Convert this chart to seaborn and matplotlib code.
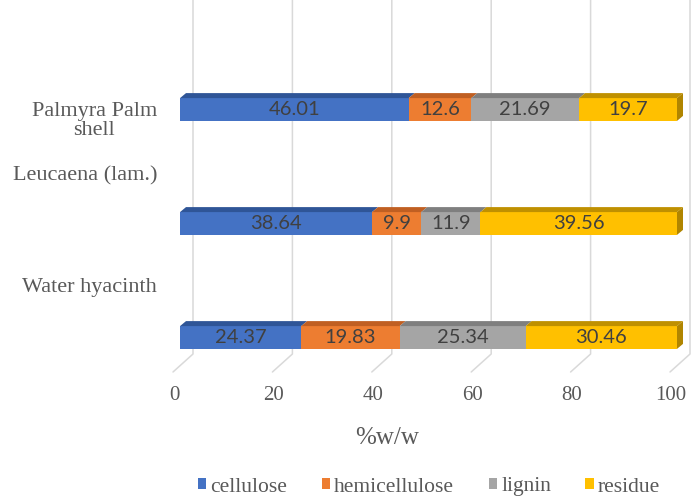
import matplotlib
matplotlib.use("Agg")
import matplotlib.pyplot as plt
import matplotlib.transforms as mtrans
from matplotlib.patches import Polygon, Patch
from matplotlib.lines import Line2D
import numpy as np
import pandas as pd
import seaborn as sns

# ---- data -------------------------------------------------------------
samples = ["Palmyra Palm\nshell", "Leucaena (lam.)", "Water hyacinth"]
components = ["cellulose", "hemicellulose", "lignin", "residue"]
cellulose = [46.01, 38.64, 24.37]
hemicellulose = [12.6, 9.9, 19.83]
lignin = [21.69, 11.9, 25.34]
residue = [19.7, 39.56, 30.46]
xticks = [0, 20, 40, 60, 80, 100]
xlabel = "%w/w"

# ---- styling ----------------------------------------------------------
front = {"cellulose": "#4472C4", "hemicellulose": "#ED7D31",
         "lignin": "#A5A5A5", "residue": "#FFC000"}
top = {"cellulose": "#2F5597", "hemicellulose": "#C05F22",
       "lignin": "#7F7F7F", "residue": "#BF9000"}
side = "#B08500"
grid_col = "#D9D9D9"
text_col = "#595959"
label_col = "#404040"
serif = ["Liberation Serif", "DejaVu Serif"]

sns.set_style("white")
plt.rcParams["font.family"] = serif

W, H = 699, 501
fig = plt.figure(figsize=(W / 100, H / 100), dpi=100)
ax = fig.add_axes([180 / W, (H - 353) / H, 497 / W, 353 / H])

df = pd.DataFrame({"sample": samples, "cellulose": cellulose,
                   "hemicellulose": hemicellulose, "lignin": lignin,
                   "residue": residue})
right = df[components].cumsum(axis=1)
left = right - df[components]
bar_h = 0.2

# stacked bars: draw cumulative totals from the outermost segment inward
for comp in reversed(components):
    layer = pd.DataFrame({"sample": samples, "end": right[comp]})
    sns.barplot(data=layer, x="end", y="sample", order=samples, orient="h",
                color=front[comp], saturation=1, width=bar_h, errorbar=None,
                linewidth=0, ax=ax, zorder=2)

ax.set_xlim(0, 100)
ax.set_ylim(2 + (353 - 337.5) / 114, -109.5 / 114)
ax.set_autoscale_on(False)
ax.set_ylabel("")
for s in ax.spines.values():
    s.set_visible(False)
ax.grid(False)

ident = mtrans.IdentityTransform()
dx, dy = 6, 5  # bar depth in pixels

# back-wall gridlines with a slanted floor segment
for t in xticks:
    xf = ax.transData.transform((t, 0))[0]
    ln = Line2D([xf + 13, xf + 13, xf - 7], [H, H - 354, H - 372],
                color=grid_col, lw=1.1, transform=ident, zorder=0.5,
                clip_on=False)
    ax.add_line(ln)

# 3-D top and side faces + value labels
for i, name in enumerate(samples):
    for comp in components:
        xl, xr = left.loc[i, comp], right.loc[i, comp]
        (px_l, y_a), = ax.transData.transform([(xl, i - bar_h / 2)])
        (px_r, y_b), = ax.transData.transform([(xr, i + bar_h / 2)])
        yt, yb = max(y_a, y_b), min(y_a, y_b)
        ax.add_patch(Polygon([(px_l, yt), (px_r, yt), (px_r + dx, yt + dy),
                              (px_l + dx, yt + dy)], closed=True,
                             facecolor=top[comp], edgecolor="none",
                             transform=ident, zorder=2.1, clip_on=False))
        if comp == components[-1]:
            ax.add_patch(Polygon([(px_r, yt), (px_r + dx, yt + dy),
                                  (px_r + dx, yb + dy), (px_r, yb)],
                                 closed=True, facecolor=side,
                                 edgecolor="none", transform=ident,
                                 zorder=2.1, clip_on=False))
        val = df.loc[i, comp]
        ax.text((xl + xr) / 2, i, f"{val:g}", ha="center", va="center",
                fontsize=14.5, color=label_col, family=["Lato", "DejaVu Sans"],
                zorder=3)

# axis ticks and labels
ax.set_xticks(xticks, labels=[str(t) for t in xticks])
ax.tick_params(axis="x", length=0, pad=24, labelsize=15, labelcolor=text_col)
for lab in ax.get_xticklabels():
    lab.set_transform(lab.get_transform() +
                      mtrans.ScaledTranslation(-0.06, 0, fig.dpi_scale_trans))

ax.set_yticks(range(len(samples)), labels=samples)
ax.tick_params(axis="y", length=0, pad=16.5, labelsize=16, labelcolor=text_col)
y_shift = [-11.5, 47.5, 50]  # pixels, positive = up
for lab, sh in zip(ax.get_yticklabels(), y_shift):
    lab.set_va("center")
    lab.set_multialignment("center")
    lab.set_linespacing(0.95)
    lab.set_transform(lab.get_transform() +
                      mtrans.ScaledTranslation(0, sh / 100, fig.dpi_scale_trans))

ax.set_xlabel(xlabel, fontsize=18, color=text_col)
ax.xaxis.label.set_va("center")
ax.xaxis.set_label_coords((387 - 180) / 497, (353 - 438) / 353)

handles = [Patch(facecolor=front[c], edgecolor="none", label=c)
           for c in components]
fig.legend(handles=handles, loc="center", bbox_to_anchor=(429 / W, 14 / H),
           ncol=4, frameon=False, fontsize=15.5, labelcolor=text_col,
           handlelength=0.38, handleheight=0.38, handletextpad=0.2,
           columnspacing=1.6, borderpad=0, borderaxespad=0)

fig.savefig("out.png", dpi=100)
